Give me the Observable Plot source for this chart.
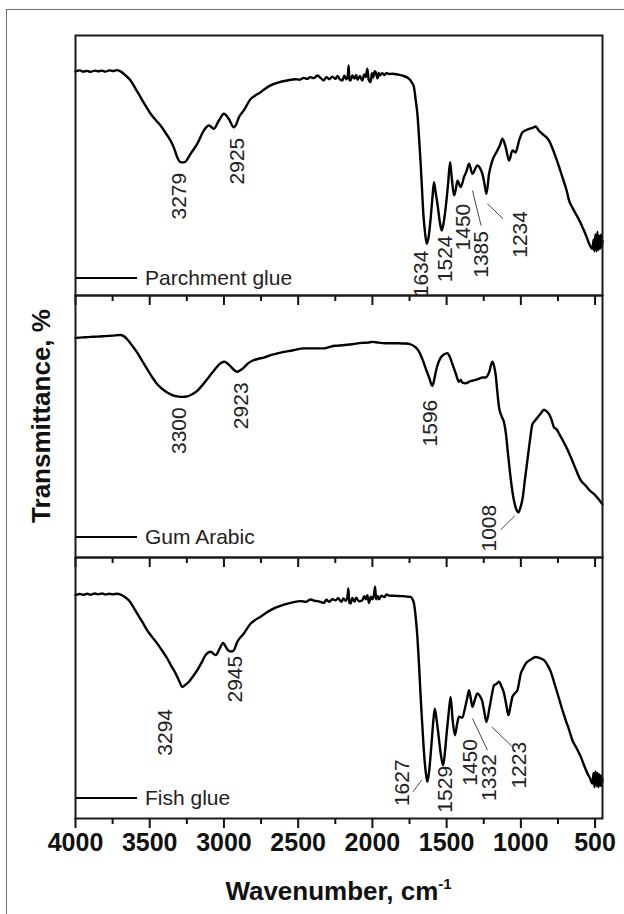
<!DOCTYPE html>
<html><head><meta charset="utf-8">
<script src="https://cdn.jsdelivr.net/npm/d3@7"></script>
<script src="https://cdn.jsdelivr.net/npm/@observablehq/plot@0.6"></script>
<style>
body{margin:0;background:#fff;}
#wrap{position:relative;width:624px;height:914px;overflow:hidden;background:#fff;font-family:"Liberation Sans",Arial,sans-serif;}
#border{position:absolute;left:6px;top:9px;width:700px;height:1000px;border:1.5px solid #707070;}
.panel{position:absolute;left:0;}
#ytitle{position:absolute;left:41px;top:416px;transform:translate(-50%,-50%) rotate(-90deg);white-space:nowrap;font-weight:bold;font-size:26px;color:#111;line-height:26px;}
#xtitle{position:absolute;left:0;width:677px;top:878px;text-align:center;white-space:nowrap;font-weight:bold;font-size:26px;color:#111;line-height:26px;}
#xtitle sup{font-size:15px;line-height:0;vertical-align:11px;}
</style>
</head><body>
<div id="wrap"><div id="border"></div><div id="ytitle">Transmittance, %</div><div id="xtitle">Wavenumber, cm<sup>-1</sup></div></div>
<script>
// ---- data: [wavenumber, transmittance (relative units, 0 = panel bottom, 100 = panel top)]
const parchmentGlue = [
[4000,86.2],[3970,86.6],[3950,86.1],[3920,86.4],[3900,86.0],[3870,86.5],[3850,86.2],[3820,86.5],[3800,86.1],[3770,86.6],[3750,86.3],[3720,86.7],[3700,86.3],[3660,84.5],[3629,82.7],[3595,79.5],[3562,76.3],[3528,73.0],[3494,69.9],[3460,67.5],[3427,65.4],[3393,62.5],[3360,59.6],[3335,56.5],[3315,53.2],[3292,51.3],[3270,51.2],[3259,51.5],[3225,54.5],[3180,58.3],[3135,63.5],[3101,65.4],[3085,64.8],[3068,64.1],[3034,67.3],[3000,69.9],[2967,67.9],[2933,64.7],[2920,65.5],[2899,68.6],[2866,71.2],[2820,75.6],[2786,77.0],[2753,78.2],[2720,79.6],[2686,80.8],[2630,82.0],[2573,82.7],[2520,83.2],[2490,83.0],[2461,83.7],[2440,83.3],[2420,84.0],[2395,83.6],[2371,84.6],[2345,83.5],[2328,82.7],[2310,84.0],[2290,83.2],[2270,84.2],[2248,83.3],[2235,84.4],[2220,83.2],[2202,82.7],[2190,84.5],[2175,83.2],[2165,85.0],[2160,88.5],[2155,83.0],[2147,82.7],[2135,84.6],[2120,83.4],[2110,84.8],[2100,83.0],[2085,84.4],[2068,82.7],[2055,85.0],[2045,84.0],[2034,87.2],[2025,83.0],[2012,82.1],[2003,85.5],[1995,83.8],[1985,86.3],[1978,85.9],[1965,83.5],[1958,85.6],[1950,84.6],[1935,85.5],[1920,84.8],[1905,85.6],[1890,85.2],[1865,85.3],[1830,85.0],[1798,84.6],[1770,84.0],[1753,83.3],[1735,82.0],[1720,80.1],[1708,75.0],[1697,69.9],[1685,60.0],[1675,50.7],[1665,40.0],[1657,31.4],[1645,24.0],[1634,19.9],[1620,23.0],[1607,30.1],[1595,38.0],[1585,43.6],[1575,40.0],[1562,35.3],[1545,28.0],[1533,25.0],[1520,28.0],[1506,34.0],[1490,43.0],[1477,51.3],[1465,45.0],[1450,38.5],[1438,41.0],[1427,44.2],[1405,41.7],[1383,45.5],[1365,48.0],[1349,50.7],[1326,46.8],[1293,50.0],[1275,49.0],[1259,46.8],[1245,43.0],[1232,39.1],[1214,46.8],[1192,51.9],[1158,55.8],[1140,58.0],[1124,60.3],[1102,57.0],[1079,51.9],[1057,55.8],[1035,55.0],[1012,59.6],[989,62.8],[945,64.1],[920,64.5],[900,65.0],[880,63.5],[855,62.2],[810,59.6],[765,53.2],[720,45.5],[690,40.0],[675,36.5],[650,33.5],[630,31.4],[605,28.8],[585,26.3],[560,23.0],[540,19.9],[518,18.0],[510,21.5],[505,17.0],[498,23.5],[490,17.0],[484,24.5],[478,17.5],[472,23.0],[466,18.0],[460,23.5],[455,18.5],[450,21.0]
];
const gumArabic = [
[4000,83.8],[3950,84.0],[3900,84.2],[3850,84.3],[3800,84.5],[3750,84.7],[3700,84.9],[3675,84.5],[3652,83.3],[3620,81.0],[3584,78.2],[3550,75.0],[3517,71.9],[3483,68.8],[3449,66.1],[3415,64.3],[3382,63.0],[3348,62.0],[3315,61.5],[3280,61.3],[3247,61.5],[3215,62.3],[3180,63.6],[3145,65.8],[3112,68.1],[3078,70.6],[3045,72.9],[3020,74.2],[2996,74.7],[2975,74.0],[2955,72.9],[2930,71.5],[2910,70.9],[2890,71.5],[2866,72.5],[2840,74.0],[2809,75.1],[2770,75.8],[2731,76.3],[2680,77.3],[2618,78.2],[2540,79.0],[2461,79.8],[2400,79.8],[2327,79.8],[2280,80.5],[2248,80.8],[2200,81.0],[2135,81.4],[2070,81.9],[2030,82.0],[2000,82.3],[1960,82.0],[1910,81.8],[1850,81.8],[1800,81.7],[1776,81.7],[1740,81.3],[1708,80.2],[1685,78.5],[1663,75.7],[1640,72.0],[1618,68.7],[1596,65.5],[1585,67.5],[1574,70.6],[1558,74.0],[1540,76.3],[1518,77.5],[1495,78.0],[1478,76.5],[1461,73.8],[1440,70.5],[1417,67.1],[1405,67.8],[1395,66.8],[1372,66.5],[1340,67.3],[1304,67.8],[1280,68.3],[1259,68.7],[1237,68.7],[1215,70.5],[1192,74.7],[1180,73.0],[1169,69.4],[1158,63.0],[1147,57.3],[1130,54.0],[1113,51.5],[1100,47.0],[1090,41.4],[1079,35.5],[1068,29.9],[1055,24.5],[1041,20.3],[1028,18.0],[1016,17.2],[1003,19.0],[989,22.3],[972,30.0],[955,37.5],[938,45.0],[922,50.9],[905,52.2],[888,53.4],[866,55.0],[844,56.4],[827,55.8],[810,54.7],[793,52.5],[776,49.6],[760,49.0],[745,47.5],[730,46.0],[698,42.6],[665,38.5],[630,33.7],[597,29.5],[563,27.4],[535,25.5],[506,24.2],[480,22.5],[450,20.3]
];
const fishGlue = [
[4000,85.6],[3970,86.0],[3950,85.7],[3920,86.1],[3900,85.7],[3870,86.2],[3850,85.9],[3820,86.2],[3800,85.8],[3770,86.1],[3750,85.9],[3720,86.1],[3700,85.9],[3670,85.0],[3641,83.6],[3610,81.0],[3584,78.5],[3550,75.3],[3517,72.1],[3483,69.5],[3449,67.0],[3415,64.2],[3382,61.3],[3355,58.5],[3326,55.6],[3300,52.5],[3281,50.4],[3260,51.2],[3236,52.4],[3208,54.5],[3180,56.8],[3150,59.8],[3124,62.6],[3090,63.9],[3056,62.6],[3030,65.0],[3005,67.3],[2990,66.0],[2973,64.5],[2955,64.0],[2937,64.2],[2910,67.7],[2866,70.9],[2820,74.7],[2786,76.2],[2753,77.3],[2710,79.0],[2663,80.5],[2610,81.7],[2551,82.6],[2480,83.3],[2450,83.0],[2416,83.9],[2390,83.4],[2370,83.3],[2327,82.6],[2310,83.8],[2290,83.0],[2270,84.0],[2248,83.6],[2230,84.4],[2210,83.0],[2195,84.3],[2180,83.4],[2168,85.0],[2162,88.1],[2155,82.6],[2147,82.4],[2135,84.5],[2120,83.0],[2110,84.6],[2090,83.2],[2068,83.6],[2055,85.2],[2045,84.0],[2034,85.6],[2023,82.6],[2010,85.0],[2000,84.0],[1990,85.5],[1982,88.8],[1975,84.0],[1965,85.3],[1956,84.0],[1940,85.4],[1920,84.8],[1905,85.8],[1888,85.4],[1840,85.3],[1798,85.2],[1765,85.0],[1742,84.9],[1730,84.0],[1720,82.4],[1708,77.0],[1697,69.6],[1685,58.0],[1675,46.6],[1663,35.0],[1652,24.9],[1640,17.5],[1630,14.1],[1618,18.0],[1607,24.9],[1593,35.0],[1580,42.1],[1568,38.0],[1556,32.6],[1540,25.0],[1524,20.4],[1512,25.0],[1500,32.6],[1487,40.0],[1473,46.6],[1460,38.0],[1444,31.9],[1430,36.0],[1417,39.0],[1395,38.6],[1372,43.4],[1360,46.5],[1349,49.2],[1336,45.5],[1326,42.8],[1310,45.5],[1293,47.9],[1275,46.8],[1259,44.7],[1245,40.5],[1232,37.0],[1210,42.8],[1195,47.5],[1180,51.1],[1165,51.5],[1147,52.4],[1130,50.5],[1113,47.9],[1098,43.5],[1084,39.6],[1070,43.0],[1057,46.6],[1040,48.0],[1023,49.2],[1000,55.6],[985,57.5],[967,59.4],[935,60.8],[900,61.9],[875,61.5],[844,60.7],[820,58.8],[798,56.2],[775,52.0],[753,47.9],[725,42.5],[698,37.7],[675,34.0],[653,30.0],[625,27.0],[596,23.6],[575,20.5],[551,17.2],[535,15.5],[518,13.4],[510,17.5],[504,12.0],[497,18.0],[490,12.5],[484,17.5],[478,12.0],[472,17.0],[466,12.5],[460,16.5],[455,12.5],[450,15.0]
];
// peak labels: [text, wavenumber of label centre, transmittance of label centre]
const parchmentLabels = [["3279",3301,38.2],["2925",2910,51.7],["1634",1668,8.3],["1524",1506,14.1],["1450",1387,26.3],["1385",1266,15.8],["1234",1007,23.5]];
const gumLabels = [["3300",3299,48.4],["2923",2883,57.9],["1596",1607,51.3],["1008",1210,11.2]];
const fishLabels = [["3294",3393,33.0],["2945",2922,53.4],["1627",1798,13.7],["1529",1506,11.2],["1450",1342,21.5],["1332",1214,15.7],["1223",1012,20.4]];
// leader lines: [wn1, T1, wn2, T2]
const parchmentLeaders = [[1326,40.4,1268,26.9],[1225,35.3,1120,29.5]];
const gumLeaders = [[1135,10.6,1041,15.9]];
const fishLeaders = [[1727,10.2,1668,14.7],[1326,38.3,1225,26.2],[1196,35.1,1061,27.7]];
const sampleNames = ["Parchment glue","Gum Arabic","Fish glue"];
const majorTicks = [4000,3500,3000,2500,2000,1500,1000,500];
const minorTicks = [3750,3250,2750,2250,1750,1250,750];
const xDomain = [4000,450];

const panels = [
  {data: parchmentGlue, labels: parchmentLabels, leaders: parchmentLeaders, name: sampleNames[0], top: 35, h: 260, legendOff: 17, last: false},
  {data: gumArabic, labels: gumLabels, leaders: gumLeaders, name: sampleNames[1], top: 295, h: 262, legendOff: 20, last: false},
  {data: fishGlue, labels: fishLabels, leaders: fishLeaders, name: sampleNames[2], top: 557, h: 261, legendOff: 20, last: true}
];

const wrap = document.getElementById("wrap");
for (const p of panels) {
  const mt = 5, mb = p.last ? 45 : 12;
  const legend = (index, scales, values, dims) => {
    const g = d3.create("svg:g");
    const y = dims.height - dims.marginBottom - p.legendOff;
    g.append("line").attr("x1", dims.marginLeft).attr("x2", dims.marginLeft + 62).attr("y1", y).attr("y2", y)
      .attr("stroke", "#000").attr("stroke-width", 2.2);
    g.append("text").attr("x", dims.marginLeft + 70).attr("y", y).attr("dy", "0.35em").attr("text-anchor", "start")
      .attr("font-size", 21).attr("fill", "#222").attr("font-family", "Liberation Sans, Arial, sans-serif").text(p.name);
    return g.node();
  };
  const chart = Plot.plot({
    width: 624,
    height: mt + p.h + mb,
    marginTop: mt, marginBottom: mb, marginLeft: 75, marginRight: 22,
    style: {background: "transparent", overflow: "visible", fontFamily: "Liberation Sans, Arial, sans-serif"},
    x: {domain: xDomain, axis: null},
    y: {domain: [0, 100], axis: null},
    marks: [
      Plot.line(p.data, {x: d => d[0], y: d => d[1], stroke: "#000", strokeWidth: 2.4, curve: "monotone-x", strokeLinejoin: "round"}),
      Plot.link(p.leaders, {x1: d => d[0], y1: d => d[1], x2: d => d[2], y2: d => d[3], stroke: "#333", strokeWidth: 0.9}),
      Plot.text(p.labels, {x: d => d[1], y: d => d[2], text: d => d[0], rotate: -90, fontSize: 21, fill: "#222", textAnchor: "middle", lineAnchor: "middle"}),
      legend,
      Plot.frame({stroke: "#1a1a1a", strokeWidth: 2}),
      Plot.axisX(majorTicks, {anchor: "bottom", tickSize: 10, tickPadding: 5, strokeWidth: 2, color: "#111",
        tickFormat: p.last ? (d => String(d)) : (() => ""), fontSize: 25, fontWeight: "bold", label: null}),
      Plot.axisX(minorTicks, {anchor: "bottom", tickSize: 6, strokeWidth: 2, color: "#111", tickFormat: () => "", label: null})
    ]
  });
  chart.classList.add("panel");
  chart.style.top = (p.top - mt) + "px";
  chart.style.position = "absolute";
  wrap.appendChild(chart);
}
</script>
</body></html>
